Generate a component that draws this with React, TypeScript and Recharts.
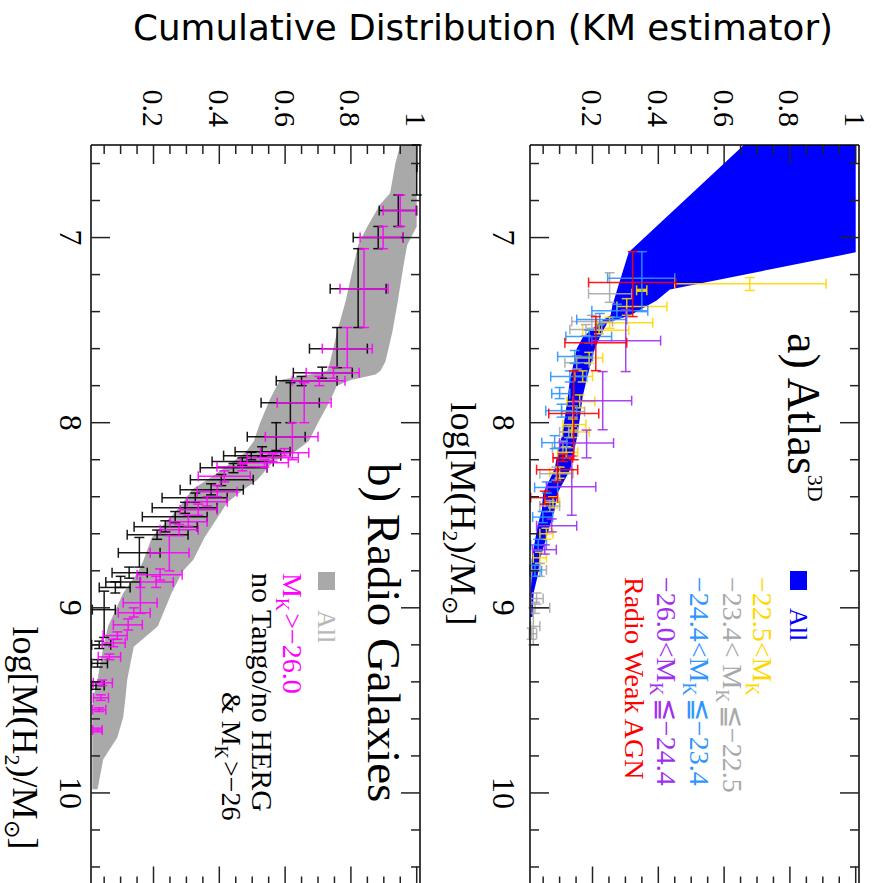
import { Area, ComposedChart, ErrorBar, Scatter, XAxis, YAxis } from "recharts";

// log M(H2) ticks (minor every 0.2, labelled on integers) and fraction ticks (minor every 0.05)
const massTicks = [6.6, 6.8, 7, 7.2, 7.4, 7.6, 7.8, 8, 8.2, 8.4, 8.6, 8.8, 9, 9.2, 9.4, 9.6, 9.8, 10, 10.2, 10.4];
const fracTicks = [0.05, 0.1, 0.15, 0.2, 0.25, 0.3, 0.35, 0.4, 0.45, 0.5, 0.55, 0.6, 0.65, 0.7, 0.75, 0.8, 0.85, 0.9, 0.95, 1];

// Atlas3D "All" KM band
const atlasBandMass = [6.5, 7.08, 7.28, 7.34, 7.37, 7.42, 7.46, 7.54, 7.6, 7.7, 7.77, 7.86, 7.97, 8.08, 8.16, 8.25, 8.38, 8.47, 8.56, 8.65, 8.74, 8.83, 8.92, 9.05];
const atlasBandLow = [0.66, 0.31, 0.275, 0.265, 0.26, 0.255, 0.22, 0.17, 0.152, 0.14, 0.131, 0.125, 0.116, 0.106, 0.094, 0.085, 0.05, 0.046, 0.033, 0.024, 0.015, 0.015, 0.012, 0.01];
const atlasBandHigh = [1.0, 1.0, 0.435, 0.395, 0.365, 0.315, 0.245, 0.222, 0.207, 0.192, 0.182, 0.17, 0.162, 0.153, 0.143, 0.133, 0.094, 0.085, 0.07, 0.055, 0.04, 0.033, 0.021, 0.018];

// radio galaxies "All" KM band
const radioBandMass = [6.5, 6.6, 6.76, 6.82, 6.94, 7.04, 7.16, 7.35, 7.51, 7.67, 7.72, 7.74, 7.77, 7.8, 7.87, 8.0, 8.1, 8.16, 8.21, 8.31, 8.36, 8.43, 8.47, 8.62, 8.74, 8.8, 8.92, 9.1, 9.21, 9.3, 9.39, 9.48, 9.59, 9.7, 9.82, 9.98];
const radioBandLow = [0.95, 0.935, 0.919, 0.889, 0.85, 0.822, 0.807, 0.783, 0.758, 0.737, 0.728, 0.676, 0.585, 0.575, 0.555, 0.524, 0.505, 0.48, 0.442, 0.363, 0.318, 0.29, 0.272, 0.195, 0.17, 0.155, 0.108, 0.062, 0.048, 0.038, 0.03, 0.017, 0.014, 0.014, 0.014, 0.014];
const radioBandHigh = [1.0, 1.0, 1.0, 1.0, 1.0, 0.971, 0.959, 0.942, 0.926, 0.905, 0.89, 0.875, 0.8, 0.757, 0.74, 0.7, 0.672, 0.627, 0.564, 0.515, 0.475, 0.425, 0.41, 0.355, 0.321, 0.29, 0.255, 0.213, 0.14, 0.13, 0.12, 0.115, 0.108, 0.09, 0.047, 0.03];

// error crosses: [logM, frac, logM low, logM high, frac low, frac high]
const faintRows = [
  [7.249, 0.678, 7.216, 7.286, 0.45, 0.91], [7.285, 0.35, 7.28, 7.29, 0.334, 0.365], [7.373, 0.304, 7.33, 7.42, 0.274, 0.426],
  [7.46, 0.252, 7.43, 7.49, 0.213, 0.383], [7.5, 0.22, 7.47, 7.52, 0.17, 0.31], [7.65, 0.19, 7.62, 7.68, 0.146, 0.231],
  [7.75, 0.17, 7.72, 7.78, 0.146, 0.2], [7.886, 0.161, 7.85, 7.92, 0.122, 0.207], [8.01, 0.14, 7.98, 8.04, 0.11, 0.18],
  [8.05, 0.137, 8.02, 8.08, 0.109, 0.19], [8.16, 0.12, 8.13, 8.19, 0.094, 0.155], [8.27, 0.1, 8.24, 8.3, 0.07, 0.14],
  [8.43, 0.08, 8.4, 8.46, 0.055, 0.1], [8.6, 0.06, 8.57, 8.63, 0.04, 0.08], [8.73, 0.04, 8.7, 8.76, 0.02, 0.06],
];
const midRows = [
  [7.303, 0.252, 7.19, 7.35, 0.188, 0.319], [7.454, 0.198, 7.42, 7.49, 0.137, 0.261], [7.497, 0.18, 7.47, 7.53, 0.131, 0.228],
  [7.676, 0.152, 7.64, 7.71, 0.116, 0.19], [7.94, 0.14, 7.91, 7.97, 0.106, 0.176], [8.05, 0.128, 8.02, 8.08, 0.1, 0.155],
  [8.135, 0.11, 8.1, 8.17, 0.078, 0.143], [8.276, 0.09, 8.24, 8.31, 0.04, 0.14], [8.45, 0.07, 8.42, 8.48, 0.04, 0.1],
  [8.795, 0.04, 8.76, 8.83, 0.015, 0.06], [8.95, 0.03, 8.92, 8.98, 0.012, 0.05], [9.0, 0.025, 8.97, 9.03, 0.012, 0.07],
  [9.1, 0.02, 9.0, 9.2, 0.012, 0.04], [9.14, 0.015, 9.11, 9.17, 0.008, 0.03],
];
const brightRows = [
  [7.22, 0.35, 7.076, 7.4, 0.246, 0.45], [7.395, 0.274, 7.36, 7.43, 0.198, 0.368], [7.443, 0.222, 7.41, 7.47, 0.152, 0.304],
  [7.535, 0.19, 7.5, 7.57, 0.119, 0.258], [7.643, 0.146, 7.61, 7.68, 0.094, 0.2], [7.751, 0.131, 7.72, 7.78, 0.073, 0.182],
  [7.843, 0.1, 7.81, 7.87, 0.076, 0.131], [7.935, 0.106, 7.9, 7.97, 0.058, 0.152], [8.108, 0.085, 8.07, 8.14, 0.046, 0.122],
  [8.35, 0.061, 8.32, 8.38, 0.024, 0.094], [8.51, 0.049, 8.48, 8.54, 0.018, 0.079], [8.66, 0.035, 8.63, 8.69, 0.012, 0.06],
  [8.8, 0.025, 8.77, 8.83, 0.01, 0.045],
];
const brightestRows = [
  [7.557, 0.301, 7.39, 7.724, 0.198, 0.407], [7.881, 0.231, 7.724, 8.038, 0.14, 0.319], [8.11, 0.182, 8.04, 8.19, 0.1, 0.264],
  [8.346, 0.137, 8.18, 8.5, 0.06, 0.21], [8.557, 0.076, 8.52, 8.59, 0.03, 0.152], [8.686, 0.055, 8.66, 8.71, 0.018, 0.09],
];
const weakAgnRows = [
  [7.243, 0.322, 7.076, 7.427, 0.188, 0.453], [7.568, 0.21, 7.427, 7.719, 0.116, 0.304], [7.95, 0.143, 7.72, 8.2, 0.067, 0.219],
  [8.254, 0.094, 8.19, 8.32, 0.03, 0.155], [8.405, 0.055, 8.37, 8.44, 0.012, 0.094], [8.19, 0.11, 8.17, 8.21, 0.08, 0.14],
];
const noTangoRows = [
  [6.62, 1.0, 6.5, 6.77, 1.0, 1.0], [6.854, 0.944, 6.77, 6.94, 0.886, 1.0], [7.0, 0.883, 6.94, 7.06, 0.807, 0.959],
  [7.276, 0.822, 7.06, 7.486, 0.737, 0.907], [7.6, 0.758, 7.486, 7.703, 0.674, 0.85], [7.73, 0.713, 7.7, 7.76, 0.625, 0.804],
  [7.773, 0.65, 7.75, 7.8, 0.573, 0.758], [7.892, 0.616, 7.784, 8.0, 0.527, 0.704], [8.076, 0.573, 8.0, 8.15, 0.485, 0.661],
  [8.157, 0.53, 8.13, 8.18, 0.448, 0.615], [8.178, 0.497, 8.16, 8.2, 0.413, 0.587], [8.21, 0.47, 8.19, 8.23, 0.378, 0.564],
  [8.243, 0.443, 8.22, 8.27, 0.342, 0.545], [8.308, 0.406, 8.28, 8.34, 0.312, 0.503], [8.362, 0.375, 8.33, 8.39, 0.281, 0.473],
  [8.405, 0.327, 8.38, 8.43, 0.226, 0.424], [8.459, 0.296, 8.43, 8.49, 0.196, 0.393], [8.508, 0.266, 8.48, 8.54, 0.166, 0.363],
  [8.562, 0.236, 8.53, 8.59, 0.141, 0.333], [8.605, 0.211, 8.58, 8.63, 0.12, 0.305], [8.703, 0.157, 8.62, 8.78, 0.093, 0.22],
  [8.81, 0.126, 8.78, 8.84, 0.074, 0.181], [8.86, 0.1, 8.83, 8.89, 0.055, 0.16], [8.89, 0.084, 8.86, 8.92, 0.035, 0.129],
  [9.01, 0.05, 8.91, 9.16, 0.014, 0.084], [9.2, 0.035, 9.18, 9.22, 0.012, 0.07], [9.3, 0.03, 9.28, 9.32, 0.012, 0.06],
  [9.42, 0.025, 9.4, 9.44, 0.012, 0.05],
];
const radioBrightRows = [
  [6.854, 0.95, 6.77, 6.94, 0.898, 0.997], [7.0, 0.898, 6.94, 7.06, 0.828, 0.959], [7.276, 0.84, 7.06, 7.486, 0.767, 0.913],
  [7.6, 0.789, 7.486, 7.703, 0.713, 0.865], [7.73, 0.747, 7.7, 7.76, 0.664, 0.825], [7.773, 0.704, 7.75, 7.8, 0.622, 0.782],
  [7.892, 0.658, 7.784, 8.0, 0.576, 0.74], [8.076, 0.622, 8.0, 8.2, 0.54, 0.7], [8.162, 0.598, 8.14, 8.18, 0.525, 0.672],
  [8.19, 0.562, 8.17, 8.21, 0.485, 0.64], [8.216, 0.537, 8.2, 8.24, 0.464, 0.61], [8.238, 0.47, 8.22, 8.26, 0.393, 0.545],
  [8.29, 0.415, 8.26, 8.32, 0.336, 0.494], [8.373, 0.394, 8.34, 8.4, 0.333, 0.454], [8.427, 0.363, 8.4, 8.45, 0.302, 0.424],
  [8.47, 0.336, 8.44, 8.5, 0.281, 0.393], [8.535, 0.306, 8.5, 8.56, 0.25, 0.363], [8.578, 0.278, 8.55, 8.61, 0.22, 0.336],
  [8.703, 0.248, 8.61, 8.8, 0.19, 0.308], [8.822, 0.22, 8.79, 8.85, 0.15, 0.287], [8.86, 0.208, 8.83, 8.89, 0.16, 0.26],
  [8.973, 0.16, 8.89, 9.03, 0.108, 0.211], [9.027, 0.14, 9.0, 9.05, 0.093, 0.19], [9.092, 0.123, 9.06, 9.12, 0.078, 0.166],
  [9.15, 0.09, 9.13, 9.17, 0.047, 0.12], [9.19, 0.078, 9.17, 9.21, 0.044, 0.114], [9.265, 0.066, 9.25, 9.28, 0.032, 0.1],
  [9.405, 0.044, 9.39, 9.42, 0.017, 0.075], [9.486, 0.04, 9.47, 9.5, 0.017, 0.063], [9.55, 0.035, 9.54, 9.56, 0.015, 0.055],
  [9.66, 0.03, 9.65, 9.67, 0.015, 0.044],
];

const SERIF = "'Liberation Serif', 'Times New Roman', serif";
const TICK = "#222";

const bandRows = (mass: number[], low: number[], high: number[]) =>
  mass.map((m, i) => ({ m, range: [low[i], high[i]] }));

const crossRows = (rows: number[][]) =>
  rows.map(([m, f, mLo, mHi, fLo, fHi]) => ({ m, f, mErr: [m - mLo, mHi - m], fErr: [f - fLo, fHi - f] }));

const isMajorMass = (v: number) => Math.abs(v - Math.round(v)) < 1e-6;
const isMajorFrac = (v: number) => Math.abs(v * 5 - Math.round(v * 5)) < 1e-6;

function massTick(side: "top" | "bottom", labelGap: number) {
  return (props: any) => {
    const { x, y, payload } = props;
    const v = payload.value;
    const len = isMajorMass(v) ? 19 : 9;
    const dir = side === "bottom" ? -1 : 1;
    return (
      <g>
        <line x1={x} x2={x} y1={y} y2={y + dir * len} stroke={TICK} strokeWidth={1.5} />
        {side === "bottom" && isMajorMass(v) && (
          <text x={x} y={y + labelGap} textAnchor="middle" fontFamily={SERIF} fontSize={32} fill="#000">
            {String(Math.round(v))}
          </text>
        )}
      </g>
    );
  };
}

function fracTick(side: "left" | "right") {
  return (props: any) => {
    const { x, y, payload } = props;
    const v = payload.value;
    const len = isMajorFrac(v) ? 19 : 9;
    const dir = side === "left" ? 1 : -1;
    return (
      <g>
        <line x1={x} x2={x + dir * len} y1={y} y2={y} stroke={TICK} strokeWidth={1.5} />
        {side === "left" && isMajorFrac(v) && (
          <text x={x - 18} y={y} dy="0.35em" textAnchor="end" fontFamily={SERIF} fontSize={30} fill="#000">
            {Math.abs(v - 1) < 1e-6 ? "1" : v.toFixed(1)}
          </text>
        )}
      </g>
    );
  };
}

type CrossSeries = { name: string; rows: number[][]; color: string };

function Panel({
  height,
  margin,
  band,
  bandColor,
  series,
  labelGap,
}: {
  height: number;
  margin: { top: number; bottom: number; left: number; right: number };
  band: { m: number; range: number[] }[];
  bandColor: string;
  series: CrossSeries[];
  labelGap: number;
}) {
  return (
    <ComposedChart width={900} height={height} data={band} margin={margin}>
      <XAxis xAxisId="b" orientation="bottom" type="number" dataKey="m" domain={[6.5, 10.5]} allowDataOverflow
        ticks={massTicks} interval={0} height={1} tickSize={0} tickMargin={0} tickLine={false}
        axisLine={{ stroke: "#000", strokeWidth: 1.5 }} tick={massTick("bottom", labelGap)} />
      <XAxis xAxisId="t" orientation="top" type="number" dataKey="m" domain={[6.5, 10.5]} allowDataOverflow
        ticks={massTicks} interval={0} height={1} tickSize={0} tickMargin={0} tickLine={false}
        axisLine={{ stroke: "#000", strokeWidth: 1.5 }} tick={massTick("top", 0)} />
      <YAxis yAxisId="l" orientation="left" type="number" dataKey="f" domain={[0.01, 1.01]} allowDataOverflow
        ticks={fracTicks} interval={0} width={1} tickSize={0} tickMargin={0} tickLine={false}
        axisLine={{ stroke: "#000", strokeWidth: 1.5 }} tick={fracTick("left")} />
      <YAxis yAxisId="r" orientation="right" type="number" dataKey="f" domain={[0.01, 1.01]} allowDataOverflow
        ticks={fracTicks} interval={0} width={1} tickSize={0} tickMargin={0} tickLine={false}
        axisLine={{ stroke: "#000", strokeWidth: 1.5 }} tick={fracTick("right")} />
      <Area xAxisId="b" yAxisId="l" type="linear" dataKey="range" stroke="none" fill={bandColor}
        fillOpacity={1} isAnimationActive={false} dot={false} activeDot={false} />
      {series.map((s) => (
        <Scatter key={s.name} name={s.name} xAxisId="b" yAxisId="l" data={crossRows(s.rows)}
          shape={() => <g />} isAnimationActive={false}>
          <ErrorBar dataKey="mErr" direction="x" width={5} stroke={s.color} strokeWidth={1.5} strokeOpacity={0.9} isAnimationActive={false} />
          <ErrorBar dataKey="fErr" direction="y" width={5} stroke={s.color} strokeWidth={1.5} strokeOpacity={0.9} isAnimationActive={false} />
        </Scatter>
      ))}
    </ComposedChart>
  );
}

const atlasSeries: CrossSeries[] = [
  { name: "-22.5<MK", rows: faintRows, color: "#FFD700" },
  { name: "-23.4<MK<=-22.5", rows: midRows, color: "#A9A9A9" },
  { name: "-24.4<MK<=-23.4", rows: brightRows, color: "#2F95FF" },
  { name: "-26.0<MK<=-24.4", rows: brightestRows, color: "#A030F0" },
  { name: "Radio Weak AGN", rows: weakAgnRows, color: "#FF0000" },
];
const radioSeries: CrossSeries[] = [
  { name: "no Tango/no HERG", rows: noTangoRows, color: "#000000" },
  { name: "MK>-26.0", rows: radioBrightRows, color: "#FF00FF" },
];

function MK({ size, drop }: { size: number; drop: number }) {
  return (
    <>
      <tspan>M</tspan>
      <tspan fontSize={size} dy={drop}>K</tspan>
      <tspan dy={-drop}>{"\u200a"}</tspan>
    </>
  );
}

function MassTitle({ x, y }: { x: number; y: number }) {
  return (
    <text x={x} y={y} textAnchor="middle" fontFamily={SERIF} fontSize={36} fill="#000">
      log[M(H<tspan fontSize={22} dy={8}>2</tspan>
      <tspan dy={-8}>)/M</tspan>
      <tspan fontSize={22} dy={8}>{"\u2299"}</tspan>
      <tspan dy={-8}>]</tspan>
    </text>
  );
}

export default function App() {
  const atlasBand = bandRows(atlasBandMass, atlasBandLow, atlasBandHigh);
  const radioBand = bandRows(radioBandMass, radioBandLow, radioBandHigh);
  return (
    <div style={{ position: "absolute", left: 0, top: 0, width: 877, height: 883, overflow: "hidden", background: "#fff" }}>
      <svg width={877} height={70} style={{ position: "absolute", left: 0, top: 0 }}>
        <text x={133} y={40} fontFamily="'DejaVu Sans Condensed', 'DejaVu Sans', sans-serif" fontSize={35}
          fontWeight={300} textLength={700} lengthAdjust="spacingAndGlyphs" fill="#000">
          Cumulative Distribution (KM estimator)
        </text>
      </svg>
      <div style={{ position: "absolute", left: 0, top: 0, width: 900, height: 877, transformOrigin: "0 0", transform: "translateX(877px) rotate(90deg)" }}>
        <div style={{ position: "absolute", left: 0, top: 0 }}>
          <Panel height={430} margin={{ top: 17, bottom: 82, left: 144, right: 13.5 }} band={atlasBand}
            bandColor="#0000FF" series={atlasSeries} labelGap={37} />
        </div>
        <div style={{ position: "absolute", left: 0, top: 430 }}>
          <Panel height={447} margin={{ top: 26, bottom: 90, left: 144, right: 13.5 }} band={radioBand}
            bandColor="#A9A9A9" series={radioSeries} labelGap={31} />
        </div>
        <svg width={900} height={877} style={{ position: "absolute", left: 0, top: 0, pointerEvents: "none" }}>
          {/* panel a annotations */}
          <text x={333} y={89} fontFamily={SERIF} fontSize={46} fill="#000">
            a) Atlas<tspan fontSize={22} dy={-20}>3D</tspan>
          </text>
          <rect x={571} y={70} width={19} height={17} fill="#0000FF" />
          <text x={608} y={87} fontFamily={SERIF} fontSize={26} fill="#0000FF">All</text>
          <text x={577} y={124} fontFamily={SERIF} fontSize={28} fill="#FFD700">
            {"\u221222.5<"}<MK size={18} drop={7} />
          </text>
          <text x={577} y={154} fontFamily={SERIF} fontSize={28} fill="#A9A9A9">
            {"\u221223.4< "}<MK size={18} drop={7} />{"\u2266\u221222.5"}
          </text>
          <text x={577} y={187} fontFamily={SERIF} fontSize={28} fill="#2F95FF">
            {"\u221224.4<"}<MK size={18} drop={7} />{"\u2266\u221223.4"}
          </text>
          <text x={577} y={220} fontFamily={SERIF} fontSize={28} fill="#A030F0">
            {"\u221226.0<"}<MK size={18} drop={7} />{"\u2266\u221224.4"}
          </text>
          <text x={577} y={252} fontFamily={SERIF} fontSize={28} fill="#FF0000">Radio Weak AGN</text>
          <MassTitle x={514} y={426} />

          {/* panel b annotations */}
          <text x={463} y={509} fontFamily={SERIF} fontSize={47} fill="#000">b) Radio Galaxies</text>
          <rect x={572} y={542} width={18} height={17} fill="#A9A9A9" />
          <text x={610} y={559} fontFamily={SERIF} fontSize={26} fill="#B8B8B8">All</text>
          <text x={573} y={594} fontFamily={SERIF} fontSize={28} fill="#FF00FF">
            <MK size={18} drop={7} />{">\u221226.0"}
          </text>
          <text x={573} y={625} fontFamily={SERIF} fontSize={30} fill="#000">no Tango/no HERG</text>
          <text x={692} y={655} fontFamily={SERIF} fontSize={28} fill="#000">
            {"& "}<MK size={18} drop={7} />{">\u221226"}
          </text>
          <MassTitle x={738} y={864} />
        </svg>
      </div>
    </div>
  );
}
